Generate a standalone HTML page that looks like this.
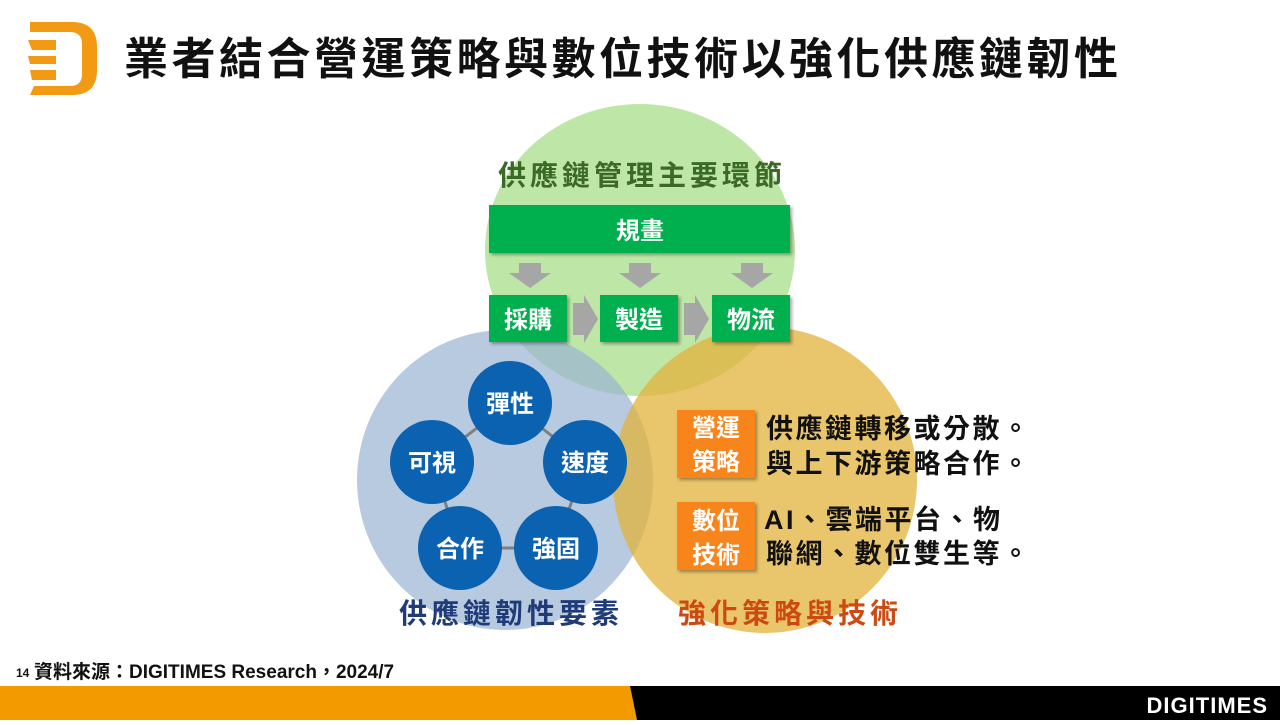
<!DOCTYPE html>
<html><head><meta charset="utf-8"><style>
body{margin:0;width:1280px;height:720px;overflow:hidden;background:#fff;font-family:"Liberation Sans","Noto Sans CJK TC",sans-serif;}
svg text{font-family:"Liberation Sans","Noto Sans CJK TC",sans-serif;font-weight:bold;}
</style></head><body>
<svg width="1280" height="720" viewBox="0 0 1280 720" xmlns="http://www.w3.org/2000/svg">
<defs>
<filter id="sh" x="-10%" y="-10%" width="130%" height="130%"><feDropShadow dx="2" dy="2" stdDeviation="1.5" flood-opacity="0.35"/></filter>
</defs>
<!-- logo -->
<path d="M30 22 H72 Q97 22 97 47 V70 Q97 95 72 95 H30 L34 86 H70 Q82 86 82 74 V44 Q82 32 70 32 H30 Z" fill="#f39a14"/>
<path d="M28 40 H56 V50 H32 Z M28 56 H56 V64 H30 Z M30 70 H56 V80 H32 Z" fill="#f39a14"/>
<text x="124" y="74" font-size="44" fill="#111" letter-spacing="3.5">業者結合營運策略與數位技術以強化供應鏈韌性</text>

<!-- circles -->
<ellipse cx="640" cy="250" rx="155" ry="146" fill="#a8dd8a" opacity="0.75"/>
<ellipse cx="505" cy="480" rx="148" ry="150" fill="#9ab3d3" opacity="0.7"/>
<ellipse cx="765" cy="480" rx="152" ry="153" fill="#e2b23a" opacity="0.75"/>

<text x="642" y="185" font-size="28" fill="#3a6a26" text-anchor="middle" letter-spacing="4">供應鏈管理主要環節</text>
<rect x="489" y="205" width="301" height="48" fill="#00b050" filter="url(#sh)"/>
<text x="640" y="239" font-size="24" fill="#fff" text-anchor="middle">規畫</text>
<g fill="#a6a6a6">
<path d="M519 263 H541 V273 H551 L530 288 L509 273 H519 Z"/>
<path d="M629 263 H651 V273 H661 L640 288 L619 273 H629 Z"/>
<path d="M741 263 H763 V273 H773 L752 288 L731 273 H741 Z"/>
<path d="M573 303 H584 V295 L598 319 L584 343 V335 H573 Z"/>
<path d="M684 303 H695 V295 L709 319 L695 343 V335 H684 Z"/>
</g>
<rect x="489" y="295" width="78" height="47" fill="#00b050" filter="url(#sh)"/>
<rect x="600" y="295" width="78" height="47" fill="#00b050" filter="url(#sh)"/>
<rect x="712" y="295" width="78" height="47" fill="#00b050" filter="url(#sh)"/>
<text x="528" y="328" font-size="24" fill="#fff" text-anchor="middle">採購</text>
<text x="639" y="328" font-size="24" fill="#fff" text-anchor="middle">製造</text>
<text x="751" y="328" font-size="24" fill="#fff" text-anchor="middle">物流</text>

<!-- pentagon -->
<polygon points="510,403 585,462 556,548 460,548 432,462" fill="none" stroke="#7f7f7f" stroke-width="3"/>
<g fill="#0a62b0">
<circle cx="510" cy="403" r="42"/>
<circle cx="585" cy="462" r="42"/>
<circle cx="556" cy="548" r="42"/>
<circle cx="460" cy="548" r="42"/>
<circle cx="432" cy="462" r="42"/>
</g>
<g font-size="24" fill="#fff" text-anchor="middle">
<text x="510" y="412">彈性</text>
<text x="585" y="471">速度</text>
<text x="556" y="557">強固</text>
<text x="460" y="557">合作</text>
<text x="432" y="471">可視</text>
</g>
<text x="511" y="623" font-size="28" fill="#1f3b78" text-anchor="middle" letter-spacing="4">供應鏈韌性要素</text>
<text x="790" y="623" font-size="28" fill="#cc4a12" text-anchor="middle" letter-spacing="4">強化策略與技術</text>

<!-- orange boxes -->
<rect x="677" y="410" width="78" height="68" fill="#f7851e" filter="url(#sh)"/>
<rect x="677" y="502" width="78" height="68" fill="#f7851e" filter="url(#sh)"/>
<g font-size="24" fill="#fff" text-anchor="middle">
<text x="716" y="436">營運</text><text x="716" y="470">策略</text>
<text x="716" y="529">數位</text><text x="716" y="563">技術</text>
</g>
<g font-size="27" fill="#111" letter-spacing="2.5">
<text x="766" y="438">供應鏈轉移或分散。</text>
<text x="766" y="473">與上下游策略合作。</text>
<text x="764" y="529">AI、雲端平台、物</text>
<text x="766" y="563">聯網、數位雙生等。</text>
</g>

<!-- footer -->
<text x="16" y="677" font-size="12" fill="#111" font-weight="normal">14</text>
<text x="34" y="678" font-size="19" fill="#111" font-weight="normal">資料來源：DIGITIMES Research，2024/7</text>
<polygon points="0,686 630,686 637,720 0,720" fill="#f39a00"/>
<polygon points="630,686 1280,686 1280,720 637,720" fill="#000"/>
<text x="1268" y="713" font-size="22" fill="#fff" text-anchor="end" letter-spacing="1">DIGITIMES</text>
</svg>
</body></html>
